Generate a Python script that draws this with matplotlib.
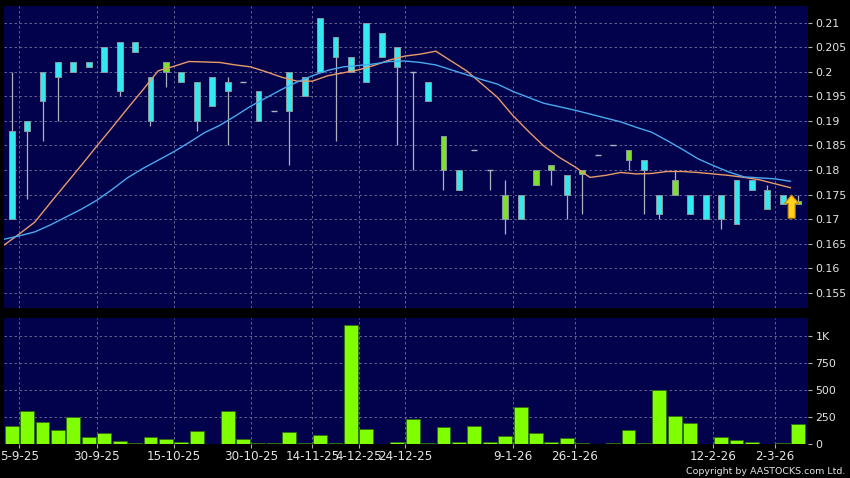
import numpy as np
import matplotlib
matplotlib.use("Agg")
import matplotlib.pyplot as plt
from matplotlib.patches import FancyArrow

# ---------------- data ----------------
opens = [0.170, 0.188, 0.194, 0.199, 0.200, 0.201, 0.200, 0.196, 0.204, 0.190,
         0.202, 0.198, 0.190, 0.193, 0.196, 0.198, 0.190, 0.192, 0.192, 0.195,
         0.200, 0.203, 0.200, 0.198, 0.203, 0.201, 0.200, 0.194, 0.187, 0.176,
         0.184, 0.180, 0.175, 0.170, 0.180, 0.181, 0.175, 0.180, 0.183, 0.185,
         0.184, 0.180, 0.171, 0.178, 0.171, 0.170, 0.170, 0.169, 0.176, 0.172,
         0.173, 0.1737]
highs = [0.200, 0.190, 0.200, 0.202, 0.202, 0.202, 0.205, 0.206, 0.206, 0.199,
         0.202, 0.200, 0.198, 0.199, 0.199, 0.198, 0.196, 0.192, 0.200, 0.199,
         0.211, 0.207, 0.203, 0.210, 0.208, 0.205, 0.200, 0.198, 0.187, 0.180,
         0.184, 0.180, 0.178, 0.175, 0.180, 0.181, 0.179, 0.180, 0.183, 0.185,
         0.184, 0.182, 0.175, 0.180, 0.175, 0.175, 0.175, 0.178, 0.178, 0.177,
         0.175, 0.175]
lows = [0.170, 0.174, 0.186, 0.190, 0.200, 0.201, 0.200, 0.195, 0.204, 0.189,
        0.197, 0.198, 0.188, 0.193, 0.185, 0.198, 0.190, 0.192, 0.181, 0.195,
        0.200, 0.186, 0.200, 0.198, 0.203, 0.185, 0.180, 0.194, 0.176, 0.176,
        0.184, 0.176, 0.167, 0.170, 0.177, 0.177, 0.170, 0.171, 0.183, 0.185,
        0.180, 0.171, 0.170, 0.175, 0.171, 0.170, 0.168, 0.169, 0.176, 0.172,
        0.173, 0.173]
closes = [0.188, 0.190, 0.200, 0.202, 0.202, 0.202, 0.205, 0.206, 0.206, 0.199,
          0.200, 0.200, 0.198, 0.199, 0.198, 0.198, 0.196, 0.192, 0.200, 0.199,
          0.211, 0.207, 0.203, 0.210, 0.208, 0.205, 0.200, 0.198, 0.180, 0.180,
          0.184, 0.180, 0.170, 0.175, 0.177, 0.180, 0.179, 0.1792, 0.183, 0.185,
          0.182, 0.182, 0.175, 0.175, 0.175, 0.175, 0.175, 0.178, 0.178, 0.176,
          0.175, 0.173]
volumes = [164, 303, 198, 124, 242, 65, 99, 19, 9, 59, 44, 13, 118, 0, 306, 44,
           9, 8, 109, 2, 81, 8, 1102, 136, 0, 12, 226, 8, 158, 16, 167, 16, 74,
           344, 102, 14, 50, 6, 0, 3, 127, 6, 496, 260, 195, 0, 65, 37, 10, 0,
           2, 180]
ma_short = [0.1647, 0.1670, 0.1694, 0.1733, 0.1771, 0.1809, 0.1848, 0.1886, 0.1925,
            0.1963, 0.2002, 0.2011, 0.2021, 0.2020, 0.2019, 0.2014, 0.2010, 0.2000,
            0.1989, 0.1981, 0.1981, 0.1992, 0.1998, 0.2004, 0.2013, 0.2024, 0.2032,
            0.2036, 0.2042, 0.2022, 0.2002, 0.1975, 0.1948, 0.1911, 0.1879, 0.1849,
            0.1826, 0.1807, 0.1785, 0.1789, 0.1795, 0.1792, 0.1793, 0.1797, 0.1797,
            0.1795, 0.1792, 0.1789, 0.1785, 0.1780, 0.1772, 0.1764]
ma_long = [0.1659, 0.1666, 0.1674, 0.1688, 0.1704, 0.1720, 0.1738, 0.1760, 0.1784,
           0.1803, 0.1820, 0.1837, 0.1856, 0.1876, 0.1891, 0.1910, 0.1930, 0.1947,
           0.1964, 0.1979, 0.1992, 0.2003, 0.2010, 0.2013, 0.2016, 0.2021, 0.2022,
           0.2019, 0.2014, 0.2004, 0.1994, 0.1984, 0.1975, 0.1960, 0.1948, 0.1936,
           0.1929, 0.1922, 0.1914, 0.1906, 0.1898, 0.1887, 0.1877, 0.1860, 0.1842,
           0.1823, 0.1809, 0.1796, 0.1786, 0.1784, 0.1782, 0.1777]
date_tick_index = [1, 6, 11, 16, 20, 23, 26, 33, 37, 46, 50]
date_labels = ["5-9-25", "30-9-25", "15-10-25", "30-10-25", "14-11-25", "4-12-25",
               "24-12-25", "9-1-26", "26-1-26", "12-2-26", "2-3-26"]
price_ticks = [0.155, 0.16, 0.165, 0.17, 0.175, 0.18, 0.185, 0.19, 0.195, 0.2, 0.205, 0.21]
price_tick_labels = ["0.155", "0.16", "0.165", "0.17", "0.175", "0.18", "0.185",
                     "0.19", "0.195", "0.2", "0.205", "0.21"]
vol_ticks = [0, 250, 500, 750, 1000]
vol_tick_labels = ["0", "250", "500", "750", "1K"]
arrow_index = 50.58
arrow_base, arrow_tip = 0.1702, 0.1749

# ---------------- styling ----------------
BG = "#000000"
FACE = "#02024c"
GRID = "#70709e"
UP = "#33e8ee"
DOWN = "#7ee02a"
EDGE = "#8a9aa0"
WICK = "#b0b0bc"
VOLC = "#7fff00"
TXT = "#e4e4e4"

fig = plt.figure(figsize=(8.5, 4.78), dpi=100, facecolor=BG)
ax = fig.add_axes([4 / 850, 1 - 307.7 / 478, 804 / 850, 301.7 / 478])
axv = fig.add_axes([4 / 850, 1 - 443.5 / 478, 804 / 850, 125.2 / 478])

n = len(closes)
x = np.arange(n)
o = np.array(opens); c = np.array(closes); h = np.array(highs); l = np.array(lows)

for a in (ax, axv):
    a.set_facecolor(FACE)
    for s in a.spines.values():
        s.set_visible(False)
    a.set_xlim(-0.5, 51.64)
    a.yaxis.tick_right()
    a.tick_params(axis="y", direction="out", length=3, width=0.8, color="#b0b0b0",
                  labelcolor=TXT, labelsize=7.9, pad=2.5)
    a.set_xticks(np.array(date_tick_index) - 0.5)
    a.grid(True, color=GRID, linestyle=(0, (3, 3)), linewidth=0.6)
    a.set_axisbelow(True)

# price panel
ax.set_ylim(0.15196, 0.2134)
ax.set_yticks(price_ticks)
ax.set_yticklabels(price_tick_labels)
ax.tick_params(axis="x", length=0, labelbottom=False)

ax.vlines(x, l, h, color=WICK, linewidth=0.9, zorder=2)
up = c > o
down = c < o
flat = c == o
bw = 0.38
ax.bar(x[up], (c - o)[up], bottom=o[up], width=bw, color=UP, edgecolor=EDGE,
       linewidth=0.7, zorder=3)
ax.bar(x[down], (o - c)[down], bottom=c[down], width=bw, color=DOWN, edgecolor=EDGE,
       linewidth=0.7, zorder=3)
ax.hlines(c[flat], x[flat] - bw / 2, x[flat] + bw / 2, color=WICK, linewidth=1.0, zorder=3)

mx = np.arange(len(ma_short)) - 0.5
ax.plot(mx, ma_short, color="#e89a6a", linewidth=1.0, zorder=4)
ax.plot(mx, ma_long, color="#4aa8ee", linewidth=1.0, zorder=4)

ax.add_patch(FancyArrow(arrow_index, arrow_base, 0, arrow_tip - arrow_base,
                        width=0.45, head_width=0.92, head_length=0.0017,
                        length_includes_head=True, facecolor="#ffd21e",
                        edgecolor="#d08a00", linewidth=0.8, zorder=5))

# volume panel
axv.set_ylim(0, 1165)
axv.set_yticks(vol_ticks)
axv.set_yticklabels(vol_tick_labels)
axv.bar(x, volumes, width=0.9, color=VOLC, edgecolor="#2f6a10", linewidth=0.6, zorder=3)
axv.set_xticklabels(date_labels)
axv.tick_params(axis="x", direction="out", length=3, width=0.8, color="#b0b0b0",
                labelcolor=TXT, labelsize=8.6, pad=2)

fig.text(845 / 850, 1 - 471.5 / 478, "Copyright by AASTOCKS.com Ltd.", color=TXT,
         fontsize=6.8, ha="right", va="center")

fig.savefig("out.png", dpi=100, facecolor=BG)
